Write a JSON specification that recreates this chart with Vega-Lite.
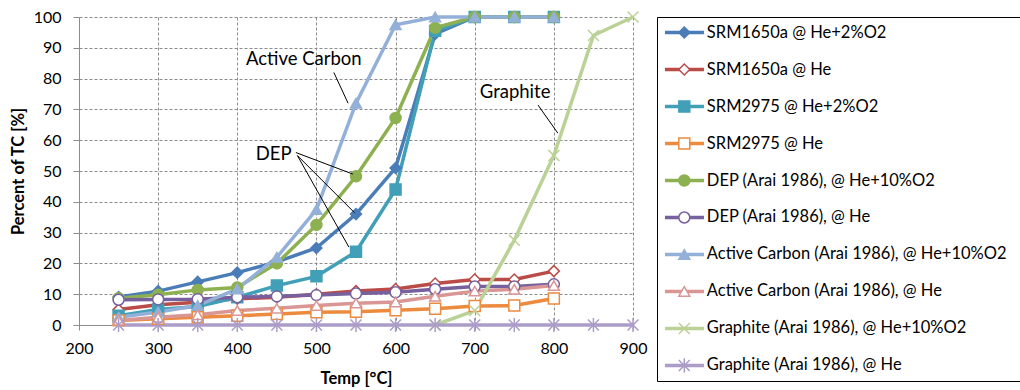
{
  "$schema": "https://vega.github.io/schema/vega-lite/v6.json",
  "padding": {"left": 10, "top": 8, "right": 0, "bottom": 0},
  "spacing": 9,
  "config": {
    "font": "Lato",
    "view": {"stroke": null},
    "axis": {
      "labelFont": "Lato", "labelFontSize": 16, "labelColor": "#000", "labelFlush": false,
      "titleFont": "Lato", "titleFontSize": 16.5, "titleFontWeight": "bold", "titleColor": "#000",
      "domainColor": "#8c8c8c", "tickColor": "#8c8c8c", "gridColor": "#8c8c8c", "gridDash": [3, 2], "gridWidth": 1
    }
  },
  "datasets": {
    "d": [
      {"s": "SRM1650a @ He+2%O2", "t": 250, "v": 9.1},
      {"s": "SRM1650a @ He+2%O2", "t": 300, "v": 11},
      {"s": "SRM1650a @ He+2%O2", "t": 350, "v": 14},
      {"s": "SRM1650a @ He+2%O2", "t": 400, "v": 17},
      {"s": "SRM1650a @ He+2%O2", "t": 450, "v": 20.5},
      {"s": "SRM1650a @ He+2%O2", "t": 500, "v": 25},
      {"s": "SRM1650a @ He+2%O2", "t": 550, "v": 36},
      {"s": "SRM1650a @ He+2%O2", "t": 600, "v": 51},
      {"s": "SRM1650a @ He+2%O2", "t": 650, "v": 94.5},
      {"s": "SRM1650a @ He+2%O2", "t": 700, "v": 100},
      {"s": "SRM1650a @ He+2%O2", "t": 750, "v": 100},
      {"s": "SRM1650a @ He+2%O2", "t": 800, "v": 100},
      {"s": "SRM1650a @ He", "t": 250, "v": 5},
      {"s": "SRM1650a @ He", "t": 300, "v": 6.6},
      {"s": "SRM1650a @ He", "t": 350, "v": 7.4},
      {"s": "SRM1650a @ He", "t": 400, "v": 8.5},
      {"s": "SRM1650a @ He", "t": 450, "v": 9},
      {"s": "SRM1650a @ He", "t": 500, "v": 10},
      {"s": "SRM1650a @ He", "t": 550, "v": 11},
      {"s": "SRM1650a @ He", "t": 600, "v": 11.7},
      {"s": "SRM1650a @ He", "t": 650, "v": 13.5},
      {"s": "SRM1650a @ He", "t": 700, "v": 14.8},
      {"s": "SRM1650a @ He", "t": 750, "v": 14.8},
      {"s": "SRM1650a @ He", "t": 800, "v": 17.5},
      {"s": "SRM2975 @ He+2%O2", "t": 250, "v": 3},
      {"s": "SRM2975 @ He+2%O2", "t": 300, "v": 5},
      {"s": "SRM2975 @ He+2%O2", "t": 350, "v": 6},
      {"s": "SRM2975 @ He+2%O2", "t": 400, "v": 9},
      {"s": "SRM2975 @ He+2%O2", "t": 450, "v": 12.8},
      {"s": "SRM2975 @ He+2%O2", "t": 500, "v": 15.8},
      {"s": "SRM2975 @ He+2%O2", "t": 550, "v": 23.8},
      {"s": "SRM2975 @ He+2%O2", "t": 600, "v": 44},
      {"s": "SRM2975 @ He+2%O2", "t": 650, "v": 95.5},
      {"s": "SRM2975 @ He+2%O2", "t": 700, "v": 100},
      {"s": "SRM2975 @ He+2%O2", "t": 750, "v": 100},
      {"s": "SRM2975 @ He+2%O2", "t": 800, "v": 100},
      {"s": "SRM2975 @ He", "t": 250, "v": 1.5},
      {"s": "SRM2975 @ He", "t": 300, "v": 2},
      {"s": "SRM2975 @ He", "t": 350, "v": 2.5},
      {"s": "SRM2975 @ He", "t": 400, "v": 3},
      {"s": "SRM2975 @ He", "t": 450, "v": 3.6},
      {"s": "SRM2975 @ He", "t": 500, "v": 4.1},
      {"s": "SRM2975 @ He", "t": 550, "v": 4.3},
      {"s": "SRM2975 @ He", "t": 600, "v": 4.8},
      {"s": "SRM2975 @ He", "t": 650, "v": 5.3},
      {"s": "SRM2975 @ He", "t": 700, "v": 6.2},
      {"s": "SRM2975 @ He", "t": 750, "v": 6.3},
      {"s": "SRM2975 @ He", "t": 800, "v": 8.6},
      {"s": "DEP (Arai 1986), @ He+10%O2", "t": 250, "v": 8.7},
      {"s": "DEP (Arai 1986), @ He+10%O2", "t": 300, "v": 9.8},
      {"s": "DEP (Arai 1986), @ He+10%O2", "t": 350, "v": 11.4},
      {"s": "DEP (Arai 1986), @ He+10%O2", "t": 400, "v": 12.2},
      {"s": "DEP (Arai 1986), @ He+10%O2", "t": 450, "v": 20},
      {"s": "DEP (Arai 1986), @ He+10%O2", "t": 500, "v": 32.5},
      {"s": "DEP (Arai 1986), @ He+10%O2", "t": 550, "v": 48.3},
      {"s": "DEP (Arai 1986), @ He+10%O2", "t": 600, "v": 67.2},
      {"s": "DEP (Arai 1986), @ He+10%O2", "t": 650, "v": 96.5},
      {"s": "DEP (Arai 1986), @ He+10%O2", "t": 700, "v": 100},
      {"s": "DEP (Arai 1986), @ He+10%O2", "t": 750, "v": 100},
      {"s": "DEP (Arai 1986), @ He+10%O2", "t": 800, "v": 100},
      {"s": "DEP (Arai 1986), @ He", "t": 250, "v": 8.2},
      {"s": "DEP (Arai 1986), @ He", "t": 300, "v": 8.3},
      {"s": "DEP (Arai 1986), @ He", "t": 350, "v": 8.4},
      {"s": "DEP (Arai 1986), @ He", "t": 400, "v": 9},
      {"s": "DEP (Arai 1986), @ He", "t": 450, "v": 9.3},
      {"s": "DEP (Arai 1986), @ He", "t": 500, "v": 9.7},
      {"s": "DEP (Arai 1986), @ He", "t": 550, "v": 10.2},
      {"s": "DEP (Arai 1986), @ He", "t": 600, "v": 10.6},
      {"s": "DEP (Arai 1986), @ He", "t": 650, "v": 11.6},
      {"s": "DEP (Arai 1986), @ He", "t": 700, "v": 12.5},
      {"s": "DEP (Arai 1986), @ He", "t": 750, "v": 12.5},
      {"s": "DEP (Arai 1986), @ He", "t": 800, "v": 13.2},
      {"s": "Active Carbon (Arai 1986), @ He+10%O2", "t": 250, "v": 2.5},
      {"s": "Active Carbon (Arai 1986), @ He+10%O2", "t": 300, "v": 4.2},
      {"s": "Active Carbon (Arai 1986), @ He+10%O2", "t": 350, "v": 6.3},
      {"s": "Active Carbon (Arai 1986), @ He+10%O2", "t": 400, "v": 11.7},
      {"s": "Active Carbon (Arai 1986), @ He+10%O2", "t": 450, "v": 22},
      {"s": "Active Carbon (Arai 1986), @ He+10%O2", "t": 500, "v": 37.5},
      {"s": "Active Carbon (Arai 1986), @ He+10%O2", "t": 550, "v": 72},
      {"s": "Active Carbon (Arai 1986), @ He+10%O2", "t": 600, "v": 97.5},
      {"s": "Active Carbon (Arai 1986), @ He+10%O2", "t": 650, "v": 100},
      {"s": "Active Carbon (Arai 1986), @ He+10%O2", "t": 700, "v": 100},
      {"s": "Active Carbon (Arai 1986), @ He+10%O2", "t": 750, "v": 100},
      {"s": "Active Carbon (Arai 1986), @ He+10%O2", "t": 800, "v": 100},
      {"s": "Active Carbon (Arai 1986), @ He", "t": 250, "v": 1.5},
      {"s": "Active Carbon (Arai 1986), @ He", "t": 300, "v": 2.5},
      {"s": "Active Carbon (Arai 1986), @ He", "t": 350, "v": 3.3},
      {"s": "Active Carbon (Arai 1986), @ He", "t": 400, "v": 4.7},
      {"s": "Active Carbon (Arai 1986), @ He", "t": 450, "v": 5.4},
      {"s": "Active Carbon (Arai 1986), @ He", "t": 500, "v": 6.3},
      {"s": "Active Carbon (Arai 1986), @ He", "t": 550, "v": 7.1},
      {"s": "Active Carbon (Arai 1986), @ He", "t": 600, "v": 7.5},
      {"s": "Active Carbon (Arai 1986), @ He", "t": 650, "v": 9.3},
      {"s": "Active Carbon (Arai 1986), @ He", "t": 700, "v": 11},
      {"s": "Active Carbon (Arai 1986), @ He", "t": 750, "v": 11.6},
      {"s": "Active Carbon (Arai 1986), @ He", "t": 800, "v": 12.8},
      {"s": "Graphite (Arai 1986), @ He+10%O2", "t": 650, "v": 0},
      {"s": "Graphite (Arai 1986), @ He+10%O2", "t": 700, "v": 4.7},
      {"s": "Graphite (Arai 1986), @ He+10%O2", "t": 750, "v": 27.5},
      {"s": "Graphite (Arai 1986), @ He+10%O2", "t": 800, "v": 55},
      {"s": "Graphite (Arai 1986), @ He+10%O2", "t": 850, "v": 94},
      {"s": "Graphite (Arai 1986), @ He+10%O2", "t": 900, "v": 100},
      {"s": "Graphite (Arai 1986), @ He", "t": 250, "v": 0},
      {"s": "Graphite (Arai 1986), @ He", "t": 300, "v": 0},
      {"s": "Graphite (Arai 1986), @ He", "t": 350, "v": 0},
      {"s": "Graphite (Arai 1986), @ He", "t": 400, "v": 0},
      {"s": "Graphite (Arai 1986), @ He", "t": 450, "v": 0},
      {"s": "Graphite (Arai 1986), @ He", "t": 500, "v": 0},
      {"s": "Graphite (Arai 1986), @ He", "t": 550, "v": 0},
      {"s": "Graphite (Arai 1986), @ He", "t": 600, "v": 0},
      {"s": "Graphite (Arai 1986), @ He", "t": 650, "v": 0},
      {"s": "Graphite (Arai 1986), @ He", "t": 700, "v": 0},
      {"s": "Graphite (Arai 1986), @ He", "t": 750, "v": 0},
      {"s": "Graphite (Arai 1986), @ He", "t": 800, "v": 0},
      {"s": "Graphite (Arai 1986), @ He", "t": 850, "v": 0},
      {"s": "Graphite (Arai 1986), @ He", "t": 900, "v": 0}
    ],
    "series": [
      {"s": "SRM1650a @ He+2%O2"},
      {"s": "SRM1650a @ He"},
      {"s": "SRM2975 @ He+2%O2"},
      {"s": "SRM2975 @ He"},
      {"s": "DEP (Arai 1986), @ He+10%O2"},
      {"s": "DEP (Arai 1986), @ He"},
      {"s": "Active Carbon (Arai 1986), @ He+10%O2"},
      {"s": "Active Carbon (Arai 1986), @ He"},
      {"s": "Graphite (Arai 1986), @ He+10%O2"},
      {"s": "Graphite (Arai 1986), @ He"}
    ],
    "notes": [
      {"label": "Active Carbon", "t": 484, "v": 86.4},
      {"label": "Graphite", "t": 751, "v": 75.6},
      {"label": "DEP", "t": 446, "v": 55.5}
    ],
    "leaders": [
      {"t1": 522, "v1": 82, "t2": 540, "v2": 72},
      {"t1": 780, "v1": 71.4, "t2": 805, "v2": 62.3},
      {"t1": 474, "v1": 56, "t2": 546, "v2": 49},
      {"t1": 476, "v1": 55, "t2": 548, "v2": 36.5},
      {"t1": 476, "v1": 55, "t2": 541, "v2": 25.3}
    ]
  },
  "hconcat": [
    {
      "width": 554,
      "height": 308,
      "layer": [
        {
          "data": {"name": "d"},
          "mark": {"type": "line", "strokeWidth": 3.5},
          "encoding": {
            "x": {"field": "t", "type": "quantitative", "scale": {"domain": [200, 900], "nice": false},
              "axis": {"values": [200, 300, 400, 500, 600, 700, 800, 900], "tickCount": 12, "title": "Temp [°C]", "tickSize": 5, "labelPadding": 10, "titlePadding": 14}},
            "y": {"field": "v", "type": "quantitative", "scale": {"domain": [0, 100], "nice": false},
              "axis": {"values": [0, 10, 20, 30, 40, 50, 60, 70, 80, 90, 100], "tickCount": 12, "title": "Percent of TC [%]", "tickSize": 6, "labelPadding": 12, "titlePadding": 7}},
            "stroke": {"field": "s", "type": "nominal", "legend": null,
              "scale": {
                "domain": ["SRM1650a @ He+2%O2", "SRM1650a @ He", "SRM2975 @ He+2%O2", "SRM2975 @ He", "DEP (Arai 1986), @ He+10%O2", "DEP (Arai 1986), @ He", "Active Carbon (Arai 1986), @ He+10%O2", "Active Carbon (Arai 1986), @ He", "Graphite (Arai 1986), @ He+10%O2", "Graphite (Arai 1986), @ He"],
                "range": ["#4A7DB8", "#BA4B47", "#419FB8", "#EC8A3E", "#8DB050", "#76609E", "#93B0D8", "#D99694", "#BAD296", "#AB9DC8"]
              }}
          }
        },
        {
          "data": {"name": "d"},
          "mark": {"type": "point", "filled": true, "opacity": 1, "strokeWidth": 1.5, "size": 120},
          "encoding": {
            "x": {"field": "t", "type": "quantitative"},
            "y": {"field": "v", "type": "quantitative"},
            "stroke": {"field": "s", "type": "nominal", "legend": null},
            "fill": {"field": "s", "type": "nominal", "legend": null,
              "scale": {
                "domain": ["SRM1650a @ He+2%O2", "SRM1650a @ He", "SRM2975 @ He+2%O2", "SRM2975 @ He", "DEP (Arai 1986), @ He+10%O2", "DEP (Arai 1986), @ He", "Active Carbon (Arai 1986), @ He+10%O2", "Active Carbon (Arai 1986), @ He", "Graphite (Arai 1986), @ He+10%O2", "Graphite (Arai 1986), @ He"],
                "range": ["#4A7DB8", "#ffffff", "#419FB8", "#ffffff", "#8DB050", "#ffffff", "#93B0D8", "#ffffff", "transparent", "transparent"]
              }},
            "shape": {"field": "s", "type": "nominal", "legend": null,
              "scale": {
                "domain": ["SRM1650a @ He+2%O2", "SRM1650a @ He", "SRM2975 @ He+2%O2", "SRM2975 @ He", "DEP (Arai 1986), @ He+10%O2", "DEP (Arai 1986), @ He", "Active Carbon (Arai 1986), @ He+10%O2", "Active Carbon (Arai 1986), @ He", "Graphite (Arai 1986), @ He+10%O2", "Graphite (Arai 1986), @ He"],
                "range": ["diamond", "diamond", "square", "square", "circle", "circle", "triangle-up", "triangle-up", "M-1,-1L1,1M-1,1L1,-1", "M-1,-1L1,1M-1,1L1,-1M0,-1.3L0,1.3"]
              }}
          }
        },
        {
          "data": {"name": "leaders"},
          "mark": {"type": "rule", "color": "#000", "strokeWidth": 1},
          "encoding": {
            "x": {"field": "t1", "type": "quantitative"},
            "y": {"field": "v1", "type": "quantitative"},
            "x2": {"field": "t2"},
            "y2": {"field": "v2"}
          }
        },
        {
          "data": {"name": "notes"},
          "mark": {"type": "text", "fontSize": 18.5, "font": "Lato", "color": "#000", "align": "center", "baseline": "middle"},
          "encoding": {
            "x": {"field": "t", "type": "quantitative"},
            "y": {"field": "v", "type": "quantitative"},
            "text": {"field": "label"}
          }
        }
      ]
    },
    {
      "width": 364,
      "height": 364,
      "view": {"stroke": "#000", "strokeWidth": 1},
      "data": {"name": "series"},
      "layer": [
        {
          "mark": {"type": "rule", "strokeWidth": 3.5},
          "encoding": {
            "x": {"datum": 2.2, "type": "quantitative", "scale": {"domain": [0, 100], "nice": false}, "axis": null},
            "x2": {"datum": 12.9},
            "y": {"field": "s", "type": "nominal", "sort": null, "scale": {"type": "point", "padding": 0.42}, "axis": null},
            "stroke": {"field": "s", "type": "nominal", "legend": null}
          }
        },
        {
          "mark": {"type": "point", "filled": true, "opacity": 1, "strokeWidth": 1.5, "size": 120},
          "encoding": {
            "x": {"datum": 7.5, "type": "quantitative"},
            "y": {"field": "s", "type": "nominal", "sort": null},
            "stroke": {"field": "s", "type": "nominal", "legend": null},
            "fill": {"field": "s", "type": "nominal", "legend": null},
            "shape": {"field": "s", "type": "nominal", "legend": null}
          }
        },
        {
          "mark": {"type": "text", "align": "left", "baseline": "middle", "fontSize": 16.5, "font": "Lato", "color": "#000"},
          "encoding": {
            "x": {"datum": 13.7, "type": "quantitative"},
            "y": {"field": "s", "type": "nominal", "sort": null},
            "text": {"field": "s"}
          }
        }
      ]
    }
  ]
}
